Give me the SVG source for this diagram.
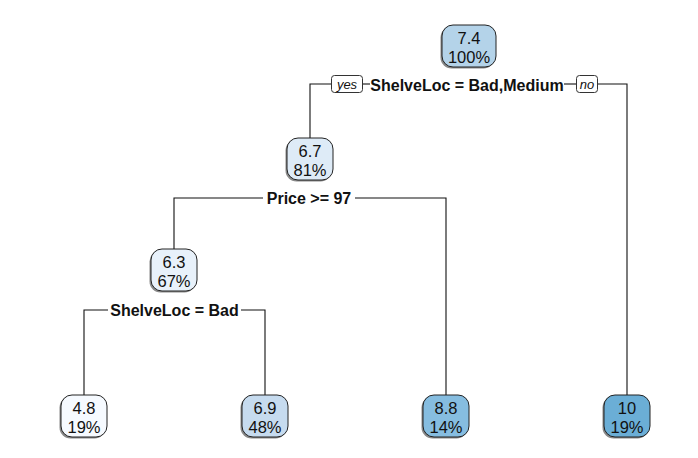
<svg xmlns="http://www.w3.org/2000/svg" width="698" height="458" viewBox="0 0 698 458">
<style>
.bg{fill:#ffffff}
.shadow{fill:#8a8a8a}
.box{stroke:#222222;stroke-width:1}
.val{font-family:"Liberation Sans",Arial,sans-serif;font-size:16.5px;fill:#111111;text-anchor:middle}
.split{font-family:"Liberation Sans",Arial,sans-serif;font-size:16px;font-weight:bold;fill:#111111;text-anchor:middle}
.yn{font-family:"Liberation Sans",Arial,sans-serif;font-size:13px;font-style:italic;fill:#111111;text-anchor:middle}
.ynbox{fill:#ffffff;stroke:#333333;stroke-width:1}
.edge{fill:none;stroke:#111111;stroke-width:1.1}
</style>
<rect class="bg" x="0" y="0" width="698" height="458"/>
<g id="connectors">
  <polyline class="edge" points="310,138 310,84 331,84"/>
  <line class="edge" x1="363" y1="84" x2="370" y2="84"/>
  <line class="edge" x1="564" y1="84" x2="576" y2="84"/>
  <polyline class="edge" points="598,84 627,84 627,395"/>
  <polyline class="edge" points="174,249 174,198 263,198"/>
  <polyline class="edge" points="355,198 446,198 446,395"/>
  <polyline class="edge" points="84,395 84,310 108,310"/>
  <polyline class="edge" points="241,310 265,310 265,395"/>
  <rect class="ynbox" x="331.5" y="75.5" width="31" height="17" rx="3"/>
  <text class="yn" x="347" y="89">yes</text>
  <rect class="ynbox" x="576.5" y="75.5" width="21" height="17" rx="3"/>
  <text class="yn" x="587" y="89">no</text>
  <text class="split" x="467" y="91">ShelveLoc = Bad,Medium</text>
  <text class="split" x="309" y="204">Price &gt;= 97</text>
  <text class="split" x="174.5" y="316">ShelveLoc = Bad</text>
</g>
<g id="node-root">
  <rect class="shadow" x="440.5" y="26.5" width="54" height="42" rx="11"/>
  <rect class="box" x="442" y="25" width="54" height="42" rx="11" fill="#b4d3e9"/>
  <text class="val" x="469" y="43.5">7.4</text>
  <text class="val" x="469" y="62.5">100%</text>
</g>
<g id="node-2">
  <rect class="shadow" x="285.5" y="139.5" width="46" height="42" rx="11"/>
  <rect class="box" x="287" y="138" width="46" height="42" rx="11" fill="#deebf7"/>
  <text class="val" x="310" y="156.5">6.7</text>
  <text class="val" x="310" y="175.5">81%</text>
</g>
<g id="node-4">
  <rect class="shadow" x="149.5" y="250.5" width="46" height="42" rx="11"/>
  <rect class="box" x="151" y="249" width="46" height="42" rx="11" fill="#e8f1fa"/>
  <text class="val" x="174" y="267.5">6.3</text>
  <text class="val" x="174" y="286.5">67%</text>
</g>
<g id="node-leaf-48">
  <rect class="shadow" x="59.5" y="396.5" width="46" height="42" rx="11"/>
  <rect class="box" x="61" y="395" width="46" height="42" rx="11" fill="#f6faff"/>
  <text class="val" x="84" y="413.5">4.8</text>
  <text class="val" x="84" y="432.5">19%</text>
</g>
<g id="node-leaf-69">
  <rect class="shadow" x="240.5" y="396.5" width="46" height="42" rx="11"/>
  <rect class="box" x="242" y="395" width="46" height="42" rx="11" fill="#c6dbef"/>
  <text class="val" x="265" y="413.5">6.9</text>
  <text class="val" x="265" y="432.5">48%</text>
</g>
<g id="node-leaf-88">
  <rect class="shadow" x="421.5" y="396.5" width="46" height="42" rx="11"/>
  <rect class="box" x="423" y="395" width="46" height="42" rx="11" fill="#86bde0"/>
  <text class="val" x="446" y="413.5">8.8</text>
  <text class="val" x="446" y="432.5">14%</text>
</g>
<g id="node-leaf-10">
  <rect class="shadow" x="602.5" y="396.5" width="46" height="42" rx="11"/>
  <rect class="box" x="604" y="395" width="46" height="42" rx="11" fill="#6baed6"/>
  <text class="val" x="627" y="413.5">10</text>
  <text class="val" x="627" y="432.5">19%</text>
</g>
</svg>
